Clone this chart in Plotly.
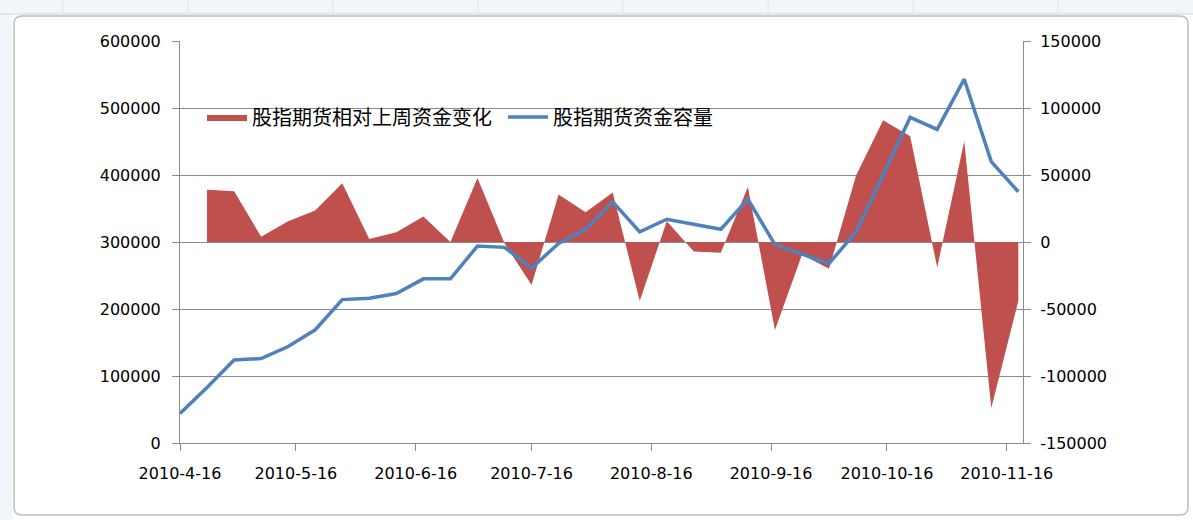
import plotly.graph_objects as go

# ---------------- data ----------------
dates = ["2010-04-16", "2010-04-23", "2010-04-30", "2010-05-07", "2010-05-14",
         "2010-05-21", "2010-05-28", "2010-06-04", "2010-06-11", "2010-06-18",
         "2010-06-25", "2010-07-02", "2010-07-09", "2010-07-16", "2010-07-23",
         "2010-07-30", "2010-08-06", "2010-08-13", "2010-08-20", "2010-08-27",
         "2010-09-03", "2010-09-10", "2010-09-17", "2010-09-24", "2010-10-01",
         "2010-10-08", "2010-10-15", "2010-10-22", "2010-10-29", "2010-11-05",
         "2010-11-12", "2010-11-19"]

capacity = [44000, 83000, 124000, 126000, 144000, 169000, 214000, 216000,
            223000, 245000, 245000, 294000, 292000, 261000, 298000, 319000,
            360000, 315000, 334000, 326000, 319000, 364000, 296000, 282000,
            268000, 315000, 402000, 486000, 468000, 543000, 420000, 375000]

weekly_change = [None, 38900, 37900, 4000, 15500, 23500, 43900, 2200, 7200,
                 19000, 0, 47700, -1000, -32000, 35400, 22200, 37000, -44000,
                 15500, -7000, -8000, 41000, -65600, -9500, -20000, 49700,
                 90900, 78900, -19000, 75100, -123800, -43900]

series_names = ["股指期货相对上周资金变化", "股指期货资金容量"]

x_tick_vals = ["2010-04-16", "2010-05-16", "2010-06-16", "2010-07-16",
               "2010-08-16", "2010-09-16", "2010-10-16", "2010-11-16"]
x_tick_text = ["2010-4-16", "2010-5-16", "2010-6-16", "2010-7-16",
               "2010-8-16", "2010-9-16", "2010-10-16", "2010-11-16"]

left_ticks = [0, 100000, 200000, 300000, 400000, 500000, 600000]
right_ticks = [-150000, -100000, -50000, 0, 50000, 100000, 150000]

# ---------------- figure ----------------
W, H = 1193, 520
L, R, T, B = 180, 170, 41, 77
PW, PH = W - L - R, H - T - B

RED = "#C0504D"
BLUE = "#4F81BD"
GRID = "#8C8C8C"
TICKFONT = dict(family="DejaVu Sans", size=16, color="#000000")

fig = go.Figure()

# red area: on the bottom (right-hand) axis so the blue line is drawn above it
fig.add_trace(go.Scatter(
    x=dates, y=weekly_change, name=series_names[0], yaxis="y",
    mode="lines", line=dict(width=0, color=RED), fill="tozeroy",
    fillcolor=RED, connectgaps=False))

fig.add_trace(go.Scatter(
    x=dates, y=capacity, name=series_names[1], yaxis="y2",
    mode="lines", line=dict(width=3.5, color=BLUE)))


def px_x(p):
    return (p - L) / PW


def px_y(p):
    return (H - B - p) / PH


# Excel-like chart-area frame (rounded rectangle)
x0, y0, x1, y1, r = 14, 16, 1188, 515, 8
path = (f"M {px_x(x0)},{px_y(y0 + r)} "
        f"Q {px_x(x0)},{px_y(y0)} {px_x(x0 + r)},{px_y(y0)} "
        f"L {px_x(x1 - r)},{px_y(y0)} "
        f"Q {px_x(x1)},{px_y(y0)} {px_x(x1)},{px_y(y0 + r)} "
        f"L {px_x(x1)},{px_y(y1 - r)} "
        f"Q {px_x(x1)},{px_y(y1)} {px_x(x1 - r)},{px_y(y1)} "
        f"L {px_x(x0 + r)},{px_y(y1)} "
        f"Q {px_x(x0)},{px_y(y1)} {px_x(x0)},{px_y(y1 - r)} Z")

shapes = [
    # spreadsheet strip at top and left
    dict(type="rect", xref="paper", yref="paper", x0=px_x(0), x1=px_x(W),
         y0=px_y(0), y1=px_y(14), fillcolor="#F1F7F9", line=dict(width=0),
         layer="below"),
    dict(type="rect", xref="paper", yref="paper", x0=px_x(0), x1=px_x(12),
         y0=px_y(14), y1=px_y(H), fillcolor="#F1F7F9", line=dict(width=0),
         layer="below"),
    dict(type="line", xref="paper", yref="paper", x0=px_x(0), x1=px_x(W),
         y0=px_y(14), y1=px_y(14), line=dict(color="#C9D6DB", width=1),
         layer="below"),
    dict(type="path", xref="paper", yref="paper", path=path,
         line=dict(color="#BDBDBD", width=1.5), fillcolor="rgba(0,0,0,0)",
         layer="below"),
]
for vx in [63, 188, 333, 478, 623, 768, 913, 1058, 1203]:
    shapes.append(dict(type="line", xref="paper", yref="paper",
                       x0=px_x(vx), x1=px_x(vx), y0=px_y(0), y1=px_y(14),
                       line=dict(color="#DCE6EA", width=1), layer="below"))

fig.update_layout(
    width=W, height=H,
    margin=dict(l=L, r=R, t=T, b=B, pad=0),
    paper_bgcolor="#FFFFFF", plot_bgcolor="#FFFFFF",
    showlegend=True,
    legend=dict(orientation="h", x=px_x(202), y=px_y(117),
                xanchor="left", yanchor="middle",
                font=dict(family="Noto Sans CJK SC", size=20, color="#000000"),
                bgcolor="rgba(0,0,0,0)", itemwidth=40, entrywidth=246,
                entrywidthmode="pixels"),
    xaxis=dict(type="date",
               range=["2010-04-16", "2010-11-20 05:00"],
               tickmode="array", tickvals=x_tick_vals, ticktext=x_tick_text,
               ticks="outside", ticklen=7, tickcolor=GRID, tickwidth=1,
               showline=True, linecolor=GRID, linewidth=1,
               showgrid=False, zeroline=False,
               tickfont=TICKFONT, ticklabelstandoff=9),
    yaxis=dict(side="right", range=[-150000, 150000],
               tickmode="array", tickvals=right_ticks,
               ticktext=[str(v) for v in right_ticks],
               ticks="outside", ticklen=7, tickcolor=GRID,
               showline=True, linecolor=GRID, linewidth=1,
               showgrid=True, gridcolor=GRID, gridwidth=1, zeroline=False,
               tickfont=TICKFONT, ticklabelstandoff=6),
    yaxis2=dict(side="left", overlaying="y", range=[0, 600000],
                tickmode="array", tickvals=left_ticks,
                ticktext=[str(v) for v in left_ticks],
                ticks="outside", ticklen=7, tickcolor=GRID,
                showline=True, linecolor=GRID, linewidth=1,
                showgrid=False, zeroline=False,
                tickfont=TICKFONT, ticklabelstandoff=8),
    shapes=shapes,
)

fig.write_html("out.html",
               config={"displayModeBar": False},
               post_script="document.body.style.margin='0';"
                           "document.body.style.overflow='hidden';")
